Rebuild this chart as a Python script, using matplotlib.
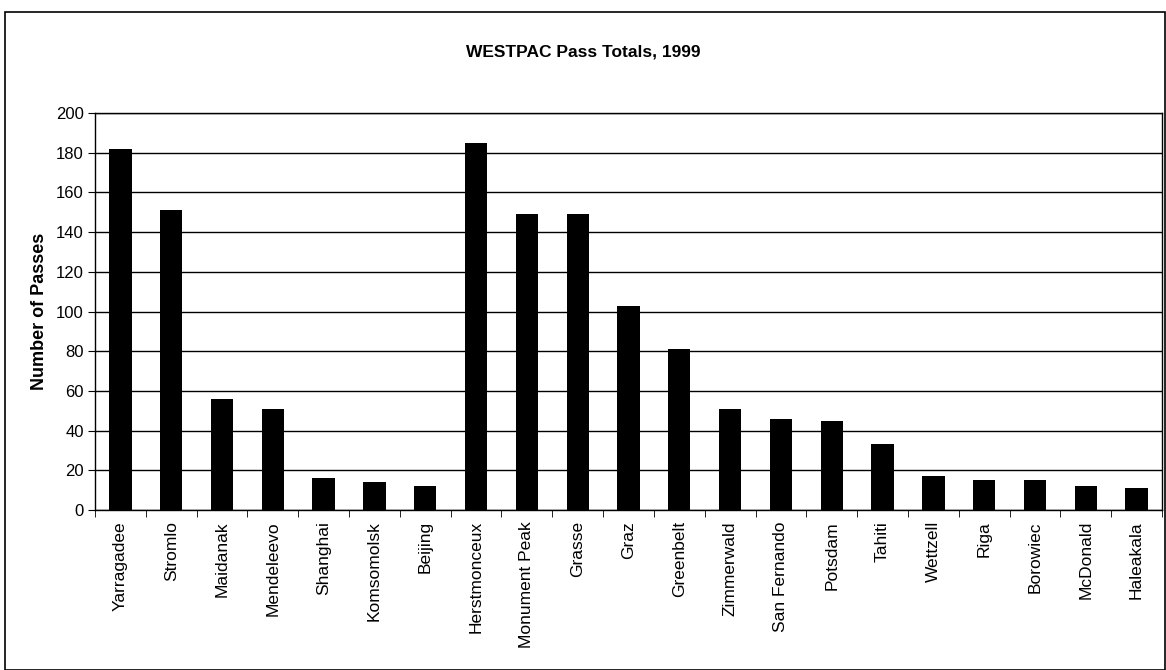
import matplotlib
matplotlib.use("Agg")
import matplotlib.pyplot as plt
from matplotlib.patches import Rectangle
import numpy as np

stations = ["Yarragadee", "Stromlo", "Maidanak", "Mendeleevo", "Shanghai", "Komsomolsk",
            "Beijing", "Herstmonceux", "Monument Peak", "Grasse", "Graz", "Greenbelt",
            "Zimmerwald", "San Fernando", "Potsdam", "Tahiti", "Wettzell", "Riga",
            "Borowiec", "McDonald", "Haleakala"]
passes = [182, 151, 56, 51, 16, 14, 12, 185, 149, 149, 103, 81, 51, 46, 45, 33, 17, 15,
          15, 12, 11]
yticks = list(range(0, 201, 20))

plt.rcParams['font.family'] = ['Liberation Sans', 'DejaVu Sans']

fig = plt.figure(figsize=(11.66, 6.70), dpi=100)
fig.patches.append(Rectangle((5/1166, 0.0), 1 - 6/1166, 1 - 12/670, transform=fig.transFigure,
                             fill=False, edgecolor='black', linewidth=1.2))
ax = fig.add_axes([95/1166, 1 - 510/670, (1162 - 95)/1166, (510 - 113)/670])

x = np.arange(len(stations))
ax.bar(x, passes, width=0.44, color='black', zorder=3)
ax.set_xlim(-0.5, len(stations) - 0.5)
ax.set_ylim(0, 200)
ax.set_yticks(yticks)
ax.set_yticklabels([str(v) for v in yticks], fontsize=12)
ax.yaxis.grid(True, color='black', linewidth=1.0, zorder=1)
ax.set_axisbelow(True)

ax.set_xticks(x)
ax.set_xticklabels(stations, rotation=90, fontsize=12.5)
ax.tick_params(axis='x', length=0, pad=8)
ax.set_xticks(np.arange(-0.5, len(stations), 1.0), minor=True)
ax.tick_params(axis='x', which='minor', length=5, direction='out', color='black')
ax.tick_params(axis='y', length=5, direction='out', color='black', pad=3)

for s in ax.spines.values():
    s.set_color('black')
    s.set_linewidth(1.0)

ax.set_ylabel("Number of Passes", fontsize=13, fontweight='bold', labelpad=6)
fig.text(0.5, 1 - 52/670, "WESTPAC Pass Totals, 1999", ha='center', va='center',
         fontsize=12.5, fontweight='bold')

fig.savefig("out.png", dpi=100)
